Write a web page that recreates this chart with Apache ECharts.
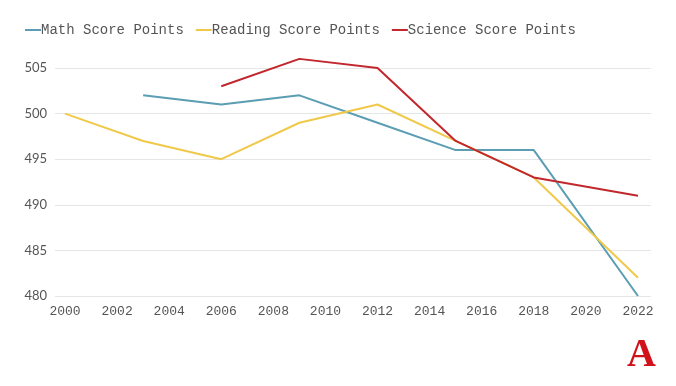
<!DOCTYPE html>
<html><head><meta charset="utf-8">
<script src="https://cdn.jsdelivr.net/npm/echarts@6/dist/echarts.min.js"></script>
<style>html,body{margin:0;padding:0;background:#fff}#c{width:676px;height:386px}</style>
</head><body><div id="c"></div>
<script>
const yearTicks = [2000,2002,2004,2006,2008,2010,2012,2014,2016,2018,2020,2022];
const mathYears = [2003,2006,2009,2012,2015,2018,2022];
const mathValues = [502,501,502,499,496,496,480];
const readingYears = [2000,2003,2006,2009,2012,2015,2018,2022];
const readingValues = [500,497,495,499,501,497,493,482];
const scienceYears = [2006,2009,2012,2015,2018,2022];
const scienceValues = [503,506,505,497,493,491];
const yTicks = [480,485,490,495,500,505];

const pair = (xs, ys) => xs.map((x,i)=>[x, ys[i]]);
const chart = echarts.init(document.getElementById('c'), null, {renderer:'canvas'});
const mk = (name, xs, ys, color) => ({
  name, type:'line', data: pair(xs, ys), showSymbol:false, symbol:'none', clip:false,
  lineStyle:{width:2, color}, itemStyle:{color}
});
chart.setOption({
  animation:false,
  legend:{
    left:20, top:18, itemWidth:16, itemHeight:2, itemGap:12,
    icon:'rect',
    textStyle:{fontFamily:'Liberation Mono', fontSize:14, color:'#555', padding:[0,0,0,-5]},
    data:['Math Score Points','Reading Score Points','Science Score Points']
  },
  grid:{left:55, right:25, top:68, bottom:90},
  xAxis:{
    type:'value', min:1999.616, max:2022.5,
    axisLine:{show:false}, axisTick:{show:false}, splitLine:{show:false},
    axisLabel:{customValues: yearTicks, formatter: v => String(v), fontFamily:'Liberation Mono', fontSize:13, color:'#555', margin:9}
  },
  yAxis:{
    type:'value', min:480, max:505, interval:5,
    axisLine:{show:false}, axisTick:{show:false},
    splitLine:{lineStyle:{color:'#e6e6e6', width:1}},
    axisLabel:{customValues: yTicks, fontFamily:'Lato', fontSize:13, color:'#555', margin:8}
  },
  series:[
    mk('Math Score Points', mathYears, mathValues, '#5b9db3'),
    mk('Reading Score Points', readingYears, readingValues, '#f0c94a'),
    mk('Science Score Points', scienceYears, scienceValues, '#c1272d')
  ],
  graphic:[{
    type:'text', right:20, top:336,
    style:{text:'A', fontFamily:'Liberation Serif', fontWeight:'bold', fontSize:40, fill:'#d0121b'}
  }]
});
</script></body></html>
